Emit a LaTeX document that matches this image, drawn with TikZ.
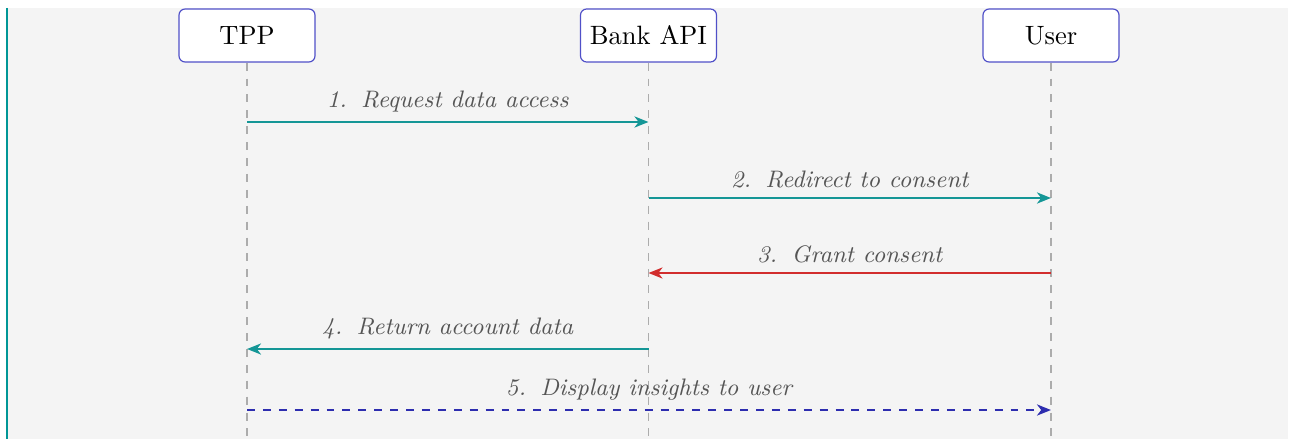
\documentclass[tikz,border=0pt]{standalone}
\usetikzlibrary{arrows.meta}
\definecolor{panelbg}{RGB}{244,244,244}
\definecolor{accent}{RGB}{0,150,150}
\definecolor{boxline}{RGB}{80,80,200}
\definecolor{lifegray}{RGB}{172,172,172}
\definecolor{labelgray}{RGB}{85,85,85}
\definecolor{msgteal}{RGB}{20,150,150}
\definecolor{msgred}{RGB}{210,45,45}
\definecolor{msgblue}{RGB}{45,45,175}
\newcommand{\stepno}[1]{#1.\hspace{0.6em}}
\begin{document}
\begin{tikzpicture}[x=0.3772pt,y=-0.3772pt,
  actor/.style={draw=boxline,line width=0.45pt,fill=white,rounded corners=2.3pt,
    minimum width=136*0.3772pt,minimum height=53*0.3772pt,inner sep=0pt,font=\normalsize},
  lifeline/.style={draw=lifegray,line width=0.5pt,dashed},
  msg/.style={line width=0.75pt,-{Stealth[length=5.3pt,width=4.2pt,inset=1.6pt]}},
  msglabel/.style={font=\small\itshape,text=labelgray,inner sep=0pt}]
\useasboundingbox (0,0) rectangle (1289,439);
% panel
\fill[panelbg] (6,8) rectangle (1288,439);
\draw[accent,line width=0.8pt] (7,8) -- (7,439);
% actors
\node[actor] (tpp) at (247,35.5) {TPP};
\node[actor] (bank) at (648.5,35.5) {Bank API};
\node[actor] (user) at (1051,35.5) {User};
% lifelines
\coordinate (tppEnd) at (247,439);
\coordinate (bankEnd) at (648.5,439);
\coordinate (userEnd) at (1051,439);
\draw[lifeline] (tpp.south) -- (tppEnd);
\draw[lifeline] (bank.south) -- (bankEnd);
\draw[lifeline] (user.south) -- (userEnd);
% message anchors on lifelines
\foreach \n/\x in {tpp/247,bank/648.5,user/1051}{
  \coordinate (\n1) at (\x,122);
  \coordinate (\n2) at (\x,198);
  \coordinate (\n3) at (\x,273);
  \coordinate (\n4) at (\x,349);
  \coordinate (\n5) at (\x,410);
}
% messages
\draw[msg,msgteal] (tpp1) -- node[msglabel,above=3.3pt] {\stepno{1}Request data access} (bank1);
\draw[msg,msgteal] (bank2) -- node[msglabel,above=3.3pt] {\stepno{2}Redirect to consent} (user2);
\draw[msg,msgred] (user3) -- node[msglabel,above=3.3pt] {\stepno{3}Grant consent} (bank3);
\draw[msg,msgteal] (bank4) -- node[msglabel,above=3.3pt] {\stepno{4}Return account data} (tpp4);
\draw[msg,msgblue,dashed] (tpp5) -- node[msglabel,above=3.3pt] {\stepno{5}Display insights to user} (user5);
\end{tikzpicture}
\end{document}
